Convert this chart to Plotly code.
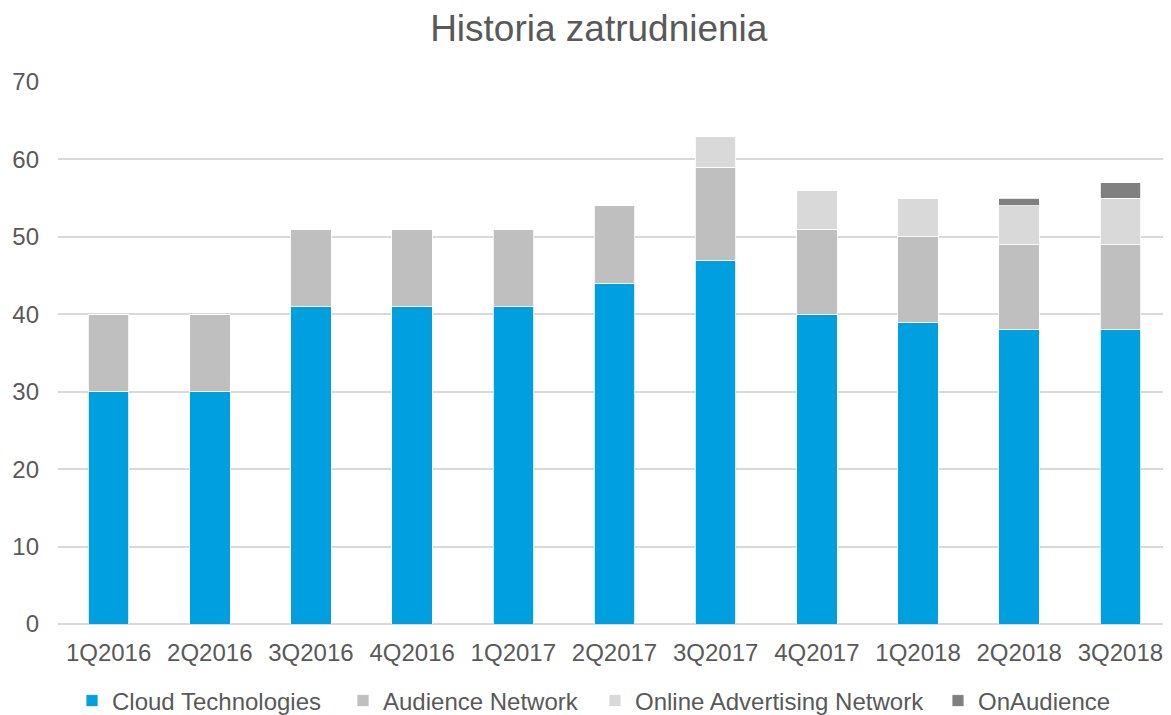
import plotly.graph_objects as go

quarters = ["1Q2016", "2Q2016", "3Q2016", "4Q2016", "1Q2017", "2Q2017",
            "3Q2017", "4Q2017", "1Q2018", "2Q2018", "3Q2018"]
cloud = [30, 30, 41, 41, 41, 44, 47, 40, 39, 38, 38]
audience = [10, 10, 10, 10, 10, 10, 12, 11, 11, 11, 11]
online = [0, 0, 0, 0, 0, 0, 4, 5, 5, 5, 6]
onaudience = [0, 0, 0, 0, 0, 0, 0, 0, 0, 1, 2]

series = [
    ("Cloud Technologies", cloud, "#009FDF"),
    ("Audience Network", audience, "#BFBFBF"),
    ("Online Advertising Network", online, "#D9D9D9"),
    ("OnAudience", onaudience, "#808080"),
]

FIG_W, FIG_H = 1163, 707
legend_text_x = [104, 375, 627, 970]   # target text start, px
TEXT_OFFSET = 40

fig = go.Figure()
legend_ids = ["legend", "legend2", "legend3", "legend4"]
for (name, vals, col), lid in zip(series, legend_ids):
    fig.add_trace(go.Bar(x=quarters, y=vals, name=name, marker_color=col,
                         marker_line_color="white", marker_line_width=0.8,
                         legend=lid, showlegend=True))

layout_legends = {}
for lid, tx in zip(legend_ids, legend_text_x):
    layout_legends[lid] = dict(
        orientation="h", xref="container", yref="container",
        x=(tx - TEXT_OFFSET) / FIG_W, xanchor="left",
        y=(FIG_H - 693) / FIG_H, yanchor="middle",
        font=dict(size=24, color="#595959"), itemwidth=30,
        bgcolor="rgba(0,0,0,0)", borderwidth=0,
    )

fig.update_layout(
    barmode="stack",
    bargap=0.6,
    showlegend=True,
    width=FIG_W, height=FIG_H,
    margin=dict(l=50, r=0, t=74, b=91),
    paper_bgcolor="white", plot_bgcolor="white",
    font=dict(family="Liberation Sans, Arial, sans-serif", color="#595959", size=24),
    title=dict(text="Historia zatrudnienia", x=0.508, xanchor="center",
               yref="container", y=0.972, yanchor="middle",
               font=dict(size=37, color="#595959")),
    yaxis=dict(range=[0, 70], dtick=10, showgrid=True, gridcolor="#D9D9D9", gridwidth=2,
               zeroline=True, zerolinecolor="#D9D9D9", zerolinewidth=2,
               ticks="", tickfont=dict(size=24, color="#595959"), ticklabelstandoff=18),
    xaxis=dict(showline=False, ticks="", tickfont=dict(size=24, color="#595959"),
               ticklabelstandoff=12),
    **layout_legends,
)
fig.write_html("out.html")
